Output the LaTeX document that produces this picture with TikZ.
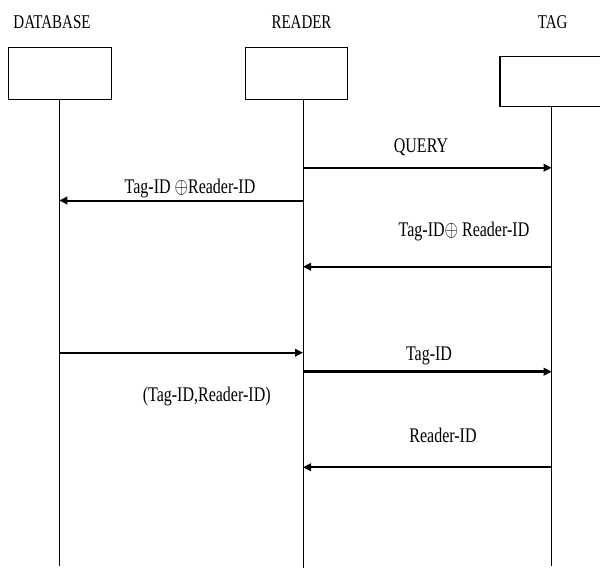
\documentclass[tikz,border=0pt]{standalone}
\usepackage{fontspec}
\setmainfont{Liberation Serif}
\usetikzlibrary{arrows.meta}
\tikzset{
  box/.style={draw, line width=1.1pt, inner sep=0pt},
  life/.style={line width=1pt},
  msg/.style={line width=2pt, -{Triangle[length=8pt,width=7.5pt]}},
  msgthick/.style={line width=2.8pt, -{Triangle[length=8pt,width=7.5pt]}},
  head/.style={anchor=base, inner sep=0pt, font=\fontsize{15}{18}\selectfont},
  lbl/.style={anchor=base, inner sep=0pt, font=\fontsize{16}{19}\selectfont},
}
\newcommand{\vs}[1]{\scalebox{1}[1.3]{#1}}
\begin{document}
\begin{tikzpicture}[x=1pt,y=1pt]
\useasboundingbox (0,0) rectangle (600,-568);
\clip (0,0) rectangle (600,-568);
% headers
\node[head] (hdb) at (52,-28) {\vs{DATABASE}};
\node[head] (hrd) at (301.5,-28) {\vs{READER}};
\node[head] (htg) at (552.7,-28) {\vs{TAG}};
% boxes
\node[box, minimum width=103.4pt, minimum height=51.6pt] (db) at (60,-73.5) {};
\node[box, minimum width=102.7pt, minimum height=51.6pt] (rd) at (296.4,-73.5) {};
\node[box, minimum width=112pt, minimum height=50pt] (tg) at (556,-81.7) {};
% lifeline ends
\coordinate (dbe) at (59.3,-566);
\coordinate (rde) at (303,-568);
\coordinate (tge) at (551.7,-566);
\draw[life] (db.south -| dbe) -- (dbe);
\draw[life] (rd.south -| rde) -- (rde);
\draw[life] (tg.south -| tge) -- (tge);
% message end points
\coordinate (q1) at (303,-167.7);   \coordinate (q2) at (551.7,-167.7);
\coordinate (a1) at (303,-200.5);   \coordinate (a2) at (59.3,-200.5);
\coordinate (b1) at (551.7,-266.7); \coordinate (b2) at (303,-266.7);
\coordinate (c1) at (59.3,-352.7);  \coordinate (c2) at (303,-352.7);
\coordinate (d1) at (303,-371.7);   \coordinate (d2) at (551.7,-371.7);
\coordinate (e1) at (551.7,-467.3); \coordinate (e2) at (303,-467.3);
% messages
\draw[msg] (q1) -- (q2);
\draw[msg] (a1) -- (a2);
\draw[msg] (b1) -- (b2);
\draw[msg] (c1) -- (c2);
\draw[msgthick] (d1) -- (d2);
\draw[msg] (e1) -- (e2);
% labels
\node[lbl] (lq) at (421,-152) {\vs{QUERY}};
\node[lbl] (la) at (190,-193.3) {\vs{Tag-ID $\oplus$Reader-ID}};
\node[lbl] (lb) at (464,-236.7) {\vs{Tag-ID$\oplus$ Reader-ID}};
\node[lbl] (ld) at (429,-360) {\vs{Tag-ID}};
\node[lbl] (lc) at (206.7,-401.7) {\vs{(Tag-ID,Reader-ID)}};
\node[lbl] (le) at (443,-442.7) {\vs{Reader-ID}};
\end{tikzpicture}
\end{document}
